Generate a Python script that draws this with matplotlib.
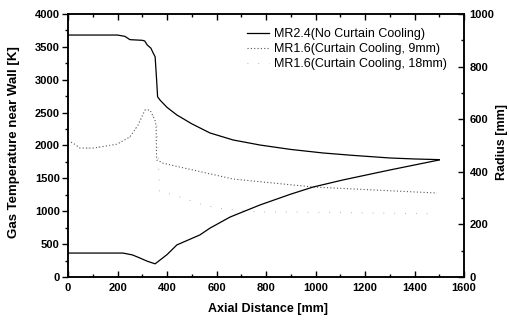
import numpy as np
import matplotlib.pyplot as plt
from matplotlib.ticker import MultipleLocator

plt.rcParams['font.family'] = ['Liberation Sans', 'DejaVu Sans']

# MR2.4 (no curtain cooling) wall gas temperature [K]
x_mr24 = [0, 100, 200, 230, 250, 300, 310, 320, 335, 345, 352, 358, 362, 372,
          400, 440, 500, 574, 667, 776, 900, 1031, 1150, 1301, 1400, 1500]
t_mr24 = [3680, 3680, 3680, 3660, 3610, 3600, 3590, 3530, 3480, 3400, 3350, 3000,
          2740, 2690, 2580, 2464, 2330, 2190, 2084, 2007, 1940, 1886, 1850, 1810,
          1795, 1785]

# MR1.6 (curtain cooling, 9mm)
x_cc9 = [0, 20, 48, 101, 198, 250, 283, 311, 331, 351, 356, 358, 370, 384,
         505, 667, 800, 990, 1200, 1491]
t_cc9 = [2070, 2038, 1962, 1960, 2020, 2130, 2310, 2540, 2540, 2390, 2300, 1780,
         1760, 1730, 1627, 1490, 1440, 1369, 1330, 1277]

# MR1.6 (curtain cooling, 18mm)
x_cc18 = [0, 20, 48, 101, 198, 250, 283, 311, 331, 351, 360, 370, 384, 465,
          521, 600, 700, 776, 1000, 1200, 1491]
t_cc18 = [2070, 2038, 1962, 1960, 2020, 2130, 2310, 2540, 2540, 2390, 2300, 1300,
          1293, 1200, 1125, 1050, 1010, 990, 985, 975, 960]

# nozzle radius [mm]
x_rad = [0, 100, 222, 260, 291, 320, 352, 400, 440, 533, 574, 655, 776, 900,
         990, 1111, 1301, 1500]
r_rad = [91, 91, 91, 84, 72, 60, 50, 85, 122, 160, 186, 228, 274, 315, 342,
         369, 407, 445]

fig = plt.figure(figsize=(5.09, 3.22), dpi=100)
ax = fig.add_axes([0.1336, 0.1398, 0.7780, 0.8167])
ax2 = ax.twinx()

ax.plot(x_mr24, t_mr24, '-', color='k', lw=0.9, label='MR2.4(No Curtain Cooling)')
ax.plot(x_cc9, t_cc9, color='#555555', lw=0.8, ls=(0, (1, 2)),
        label='MR1.6(Curtain Cooling, 9mm)')
ax.plot(x_cc18, t_cc18, color='#999999', lw=0.6, ls=(0, (1, 12)),
        label='MR1.6(Curtain Cooling, 18mm)')
ax2.plot(x_rad, r_rad, '-', color='k', lw=0.9)

ax.set_xlim(0, 1600)
ax.set_ylim(0, 4000)
ax2.set_ylim(0, 1000)
ax.xaxis.set_major_locator(MultipleLocator(200))
ax.xaxis.set_minor_locator(MultipleLocator(100))
ax.yaxis.set_major_locator(MultipleLocator(500))
ax.yaxis.set_minor_locator(MultipleLocator(250))
ax2.yaxis.set_major_locator(MultipleLocator(200))
ax2.yaxis.set_minor_locator(MultipleLocator(100))

for a in (ax, ax2):
    for s in a.spines.values():
        s.set_linewidth(1.1)
ax.tick_params(axis='x', which='both', direction='in', top=True)
ax.tick_params(axis='x', which='major', length=4, width=1, pad=4.5)
ax.tick_params(axis='x', which='minor', length=2, width=1)
ax.tick_params(axis='y', which='major', direction='out', length=4, width=1, pad=2)
ax.tick_params(axis='y', which='minor', direction='out', length=2, width=1)
ax2.tick_params(axis='y', which='major', direction='in', length=4, width=1, pad=4)
ax2.tick_params(axis='y', which='minor', direction='in', length=2, width=1)

for lab in ax.get_xticklabels() + ax.get_yticklabels() + ax2.get_yticklabels():
    lab.set_fontsize(8)
    lab.set_fontweight('bold')

ax.set_xlabel('Axial Distance [mm]', fontsize=9, fontweight='bold', va='center')
ax.xaxis.set_label_coords(0.505, -0.122)
ax.set_ylabel('Gas Temperature near Wall [K]', fontsize=9.5, fontweight='bold',
              va='center')
ax.yaxis.set_label_coords(-0.136, 0.513)
ax2.set_ylabel('Radius [mm]', fontsize=9, fontweight='bold', va='center')
ax2.yaxis.set_label_coords(1.096, 0.513)

ax.legend(loc='upper left', frameon=False, fontsize=9, handlelength=1.8,
          handletextpad=0.4, labelspacing=0.25, borderpad=0, borderaxespad=0,
          bbox_to_anchor=(0.452, 0.946))

fig.savefig('out.png', dpi=100)
